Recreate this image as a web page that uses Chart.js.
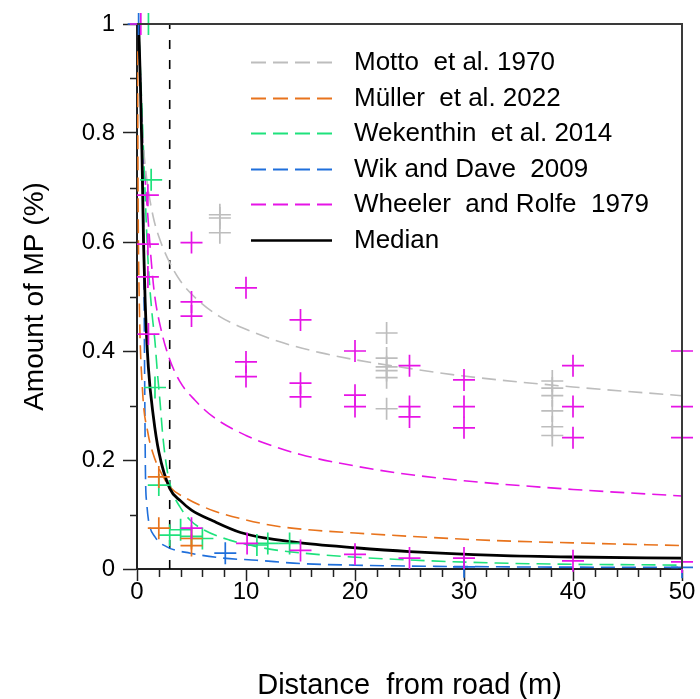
<!DOCTYPE html>
<html><head><meta charset="utf-8">
<script src="https://cdn.jsdelivr.net/npm/chart.js@4.4.1/dist/chart.umd.min.js"></script>
<style>html,body{margin:0;padding:0;background:#fff}</style>
</head><body>
<canvas id="c" width="700" height="699"></canvas>
<script>
// ---------- fitted curves ----------
const mottoX = [0.17,0.3,0.5,0.7,1,1.5,2,3,4,5.5,7.6,10,13.4,16.8,20,25,30,40,50];
const mottoY = [1.0,0.89,0.80,0.75,0.70,0.645,0.61,0.562,0.528,0.495,0.463,0.440,0.415,0.397,0.384,0.368,0.354,0.334,0.318];

const mullerX = [0.05,0.1,0.2,0.5,1,1.5,2,3,4.5,7,10,13,17,20,25,33,40,50];
const mullerY = [0.95,0.68,0.5,0.33,0.25,0.21,0.185,0.151,0.13,0.107,0.09,0.078,0.07,0.066,0.06,0.052,0.048,0.043];

const wekX = [0.2,0.5,0.8,1.0,1.35,1.65,1.86,2.1,2.36,2.72,3.18,3.94,4.86,6.1,8.5,11,13,17,20.5,33,50];
const wekY = [0.97,0.82,0.66,0.57,0.475,0.417,0.363,0.31,0.246,0.187,0.145,0.114,0.09,0.072,0.053,0.041,0.034,0.026,0.021,0.011,0.007];

const wikX = [0.1,0.4,0.55,0.65,0.72,0.78,0.9,1.05,1.65,2.7,4.9,7.9,11,15,20,33,50];
const wikY = [1.0,0.85,0.72,0.5,0.3,0.17,0.12,0.09,0.059,0.041,0.029,0.02,0.016,0.01,0.007,0.004,0.003];

const wheelerX = [0.15,0.3,0.5,0.7,1,1.3,1.6,2.2,2.9,3.9,5.3,7,10,12,15,20,24,30,40,50];
const wheelerY = [1.0,0.9,0.8,0.73,0.646,0.567,0.505,0.44,0.39,0.345,0.31,0.279,0.245,0.229,0.21,0.189,0.176,0.162,0.146,0.134];

const medianX = [0.15,0.3,0.45,0.6,0.75,1.04,1.5,2,3,4,5,7,9.5,12,15,20,25,33,40,50];
const medianY = [1.0,0.9,0.77,0.6,0.49,0.371,0.28,0.215,0.148,0.125,0.108,0.088,0.067,0.056,0.048,0.039,0.032,0.025,0.022,0.020];

const refLineX = [3,3];
const refLineY = [0,1];

// ---------- measured points ----------
const mottoPtsX = [7.6,7.6,7.6,22.9,22.9,22.9,22.9,22.9,22.9,38.1,38.1,38.1,38.1,38.1,38.1];
const mottoPtsY = [0.65,0.644,0.617,0.433,0.387,0.371,0.364,0.351,0.294,0.345,0.332,0.318,0.29,0.261,0.245];

const wheelerPtsX = [0.35,1,1,1,1.05,5,5,5,5,10,10,10,10.1,15,15,15,15,20,20,20,20,25,25,25,25,30,30,30,30,40,40,40,40,50,50,50,50];
const wheelerPtsY = [1.0,0.686,0.596,0.536,0.431,0.599,0.49,0.464,0.075,0.516,0.38,0.353,0.047,0.457,0.341,0.316,0.034,0.40,0.319,0.298,0.027,0.373,0.298,0.279,0.02,0.347,0.298,0.259,0.02,0.373,0.298,0.241,0.015,0.40,0.298,0.241,0.013];

const mullerPtsX = [2,2,5,5];
const mullerPtsY = [0.169,0.075,0.056,0.043];

const wekPtsX = [1.05,1.3,1.65,2,3,4,5,6,11,12,14];
const wekPtsY = [1.0,0.714,0.333,0.154,0.062,0.072,0.06,0.056,0.044,0.047,0.047];

const wikPtsX = [0.15,8.1,30,50];
const wikPtsY = [1.0,0.029,0.004,0.003];

// ---------- axes ----------
const xTicks = [0,10,20,30,40,50];
const yTicks = [0,0.2,0.4,0.6,0.8,1];
const xMinorTicks = [2,4,6,8,12,14,16,18,22,24,26,28,32,34,36,38,42,44,46,48];
const yMinorTicks = [0.1,0.3,0.5,0.7,0.9];

const labels = ["Motto  et al. 1970","Müller  et al. 2022","Wekenthin  et al. 2014","Wik and Dave  2009","Wheeler  and Rolfe  1979","Median"];

const GRAY='#BDBDBD', ORANGE='#E8731C', GREEN='#1EE27C', BLUE='#1F6FDB', MAGENTA='#E614E6';

const zip = (xs, ys) => xs.map((x,i)=>({x:x, y:ys[i]}));

function curve(label, xs, ys, color, dash, width, order){
  return {label, data: zip(xs,ys), showLine:true, borderColor:color, backgroundColor:color,
    borderDash:dash, borderWidth:width, pointRadius:0, pointHoverRadius:0,
    cubicInterpolationMode:'monotone', fill:false, order, inLegend:true};
}
function pts(label, xs, ys, color){
  return {label, data: zip(xs,ys), showLine:false, pointStyle:'cross', pointRadius:11,
    pointBorderWidth:1.7, borderColor:color, backgroundColor:color, clip:false, order:0, inLegend:false};
}

const datasets = [
  curve(labels[0], mottoX, mottoY, GRAY, [14,7], 1.6, 3),
  curve(labels[1], mullerX, mullerY, ORANGE, [14,7], 1.6, 3),
  curve(labels[2], wekX, wekY, GREEN, [14,7], 1.6, 3),
  curve(labels[3], wikX, wikY, BLUE, [14,7], 1.6, 3),
  curve(labels[4], wheelerX, wheelerY, MAGENTA, [14,7], 1.6, 3),
  curve(labels[5], medianX, medianY, '#000000', [], 2.8, 2),
  {label:'x = 3 m', data: zip(refLineX, refLineY), showLine:true, borderColor:'#000', borderDash:[9,11],
   borderWidth:1.6, pointRadius:0, order:4, inLegend:false},
  pts('Motto points', mottoPtsX, mottoPtsY, GRAY),
  pts('Wheeler points', wheelerPtsX, wheelerPtsY, MAGENTA),
  pts('Müller points', mullerPtsX, mullerPtsY, ORANGE),
  pts('Wekenthin points', wekPtsX, wekPtsY, GREEN),
  pts('Wik points', wikPtsX, wikPtsY, BLUE),
];

const FONT = "'Liberation Sans', Arial, sans-serif";
Chart.defaults.font.family = FONT;
Chart.defaults.color = '#000';

const framePlugin = {
  id:'frame',
  afterDraw(chart){
    const {ctx, chartArea:a, scales} = chart;
    ctx.save();
    // minor ticks
    ctx.strokeStyle = '#222'; ctx.lineWidth = 1.5;
    ctx.beginPath();
    xMinorTicks.forEach(v=>{ const px = Math.round(scales.x.getPixelForValue(v))+0.5; ctx.moveTo(px, a.bottom); ctx.lineTo(px, a.bottom+8); });
    yMinorTicks.forEach(v=>{ const py = Math.round(scales.y.getPixelForValue(v))+0.5; ctx.moveTo(a.left, py); ctx.lineTo(a.left-7, py); });
    ctx.stroke();
    // top & right frame
    ctx.strokeStyle = '#3a3a3a'; ctx.lineWidth = 2;
    ctx.beginPath();
    ctx.moveTo(a.left, a.top); ctx.lineTo(a.right, a.top); ctx.lineTo(a.right, a.bottom);
    ctx.stroke();
    // legend
    const items = chart.data.datasets.filter(d=>d.inLegend);
    const x0 = 251, x1 = 332, tx = 354, y0 = 62, step = 35.5;
    ctx.font = '26px ' + FONT;
    ctx.textBaseline = 'middle'; ctx.textAlign = 'left';
    items.forEach((d,i)=>{
      const y = Math.round(y0 + i*step) + 0.5;
      ctx.strokeStyle = d.borderColor;
      ctx.lineWidth = d.borderDash.length ? 2 : 2.5;
      ctx.setLineDash(d.borderDash.length ? [15,7] : []);
      ctx.beginPath(); ctx.moveTo(x0, y); ctx.lineTo(x1, y); ctx.stroke();
      ctx.setLineDash([]);
      ctx.fillStyle = '#000';
      ctx.fillText(d.label, tx, y);
    });
    ctx.restore();
  }
};

new Chart(document.getElementById('c'), {
  type:'scatter',
  data:{datasets},
  options:{
    responsive:false, animation:false, devicePixelRatio:1,
    layout:{padding:{top:24, right:18, left:0, bottom:0}},
    plugins:{legend:{display:false}, tooltip:{enabled:false}},
    scales:{
      x:{type:'linear', min:0, max:50,
        afterFit(s){ s.height = 130; },
        afterBuildTicks(s){ s.ticks = xTicks.map(v=>({value:v})); },
        ticks:{font:{size:24}, padding:-3, color:'#000', callback:v=>String(v)},
        grid:{drawOnChartArea:false, drawTicks:true, tickLength:12, tickColor:'#222', tickWidth:1.5},
        border:{display:true, color:'#222', width:2},
        title:{display:true, text:'Distance  from road (m)', font:{size:29}, color:'#000', padding:{top:0,bottom:-4}}
      },
      y:{type:'linear', min:0, max:1,
        afterFit(s){ s.width = 137; },
        afterBuildTicks(s){ s.ticks = yTicks.map(v=>({value:v})); },
        ticks:{font:{size:24}, padding:8, color:'#000', callback:v=>String(v)},
        grid:{drawOnChartArea:false, drawTicks:true, tickLength:14, tickColor:'#222', tickWidth:1.5},
        border:{display:true, color:'#222', width:2},
        title:{display:true, text:'Amount of MP (%)', font:{size:28}, color:'#000', padding:{top:18,bottom:0}}
      }
    }
  },
  plugins:[framePlugin]
});
</script>
</body></html>
